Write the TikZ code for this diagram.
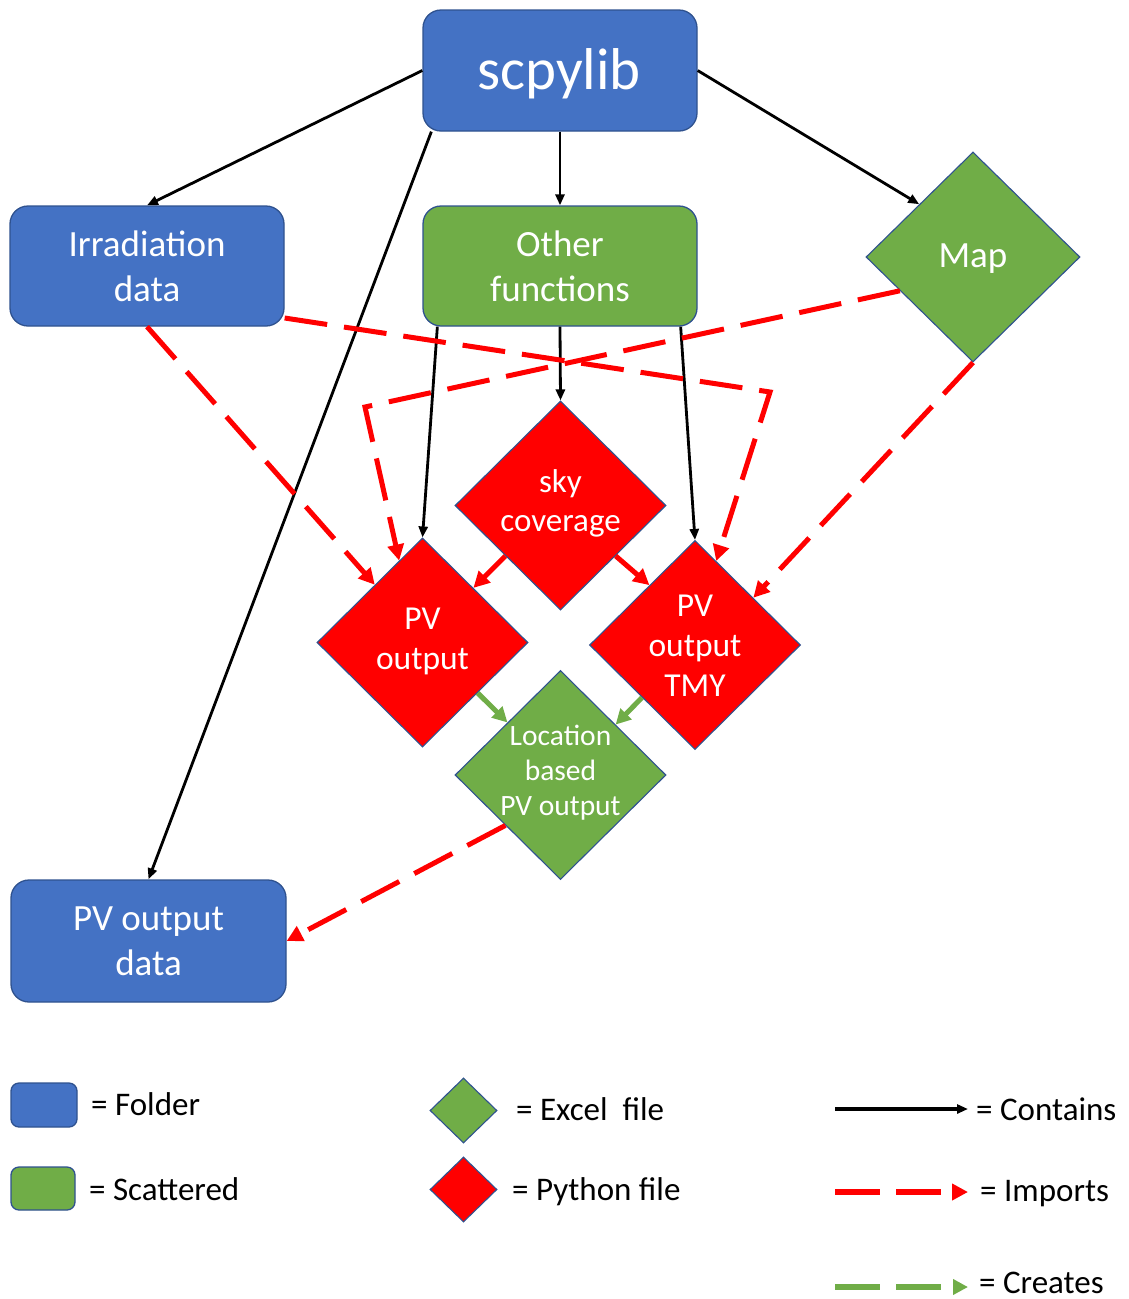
\documentclass[tikz,border=0pt]{standalone}
\usepackage{fontspec}
\setmainfont{Carlito}
\usetikzlibrary{arrows.meta,shapes.geometric,calc}
\definecolor{folderblue}{HTML}{4472C4}
\definecolor{scatgreen}{HTML}{70AD47}
\definecolor{pyred}{HTML}{FF0000}
\definecolor{edgeblue}{HTML}{2F528F}

\begin{document}
\begin{tikzpicture}[x=1pt,y=-1pt,
  box/.style={draw=edgeblue, line width=1.3pt, rounded corners=18pt,
    minimum width=274pt, minimum height=120pt, text=white, align=center,
    font=\fontsize{37}{45}\selectfont, inner sep=0pt},
  folder/.style={box, fill=folderblue},
  scattered/.style={box, fill=scatgreen},
  dia/.style={diamond, draw=edgeblue, line width=1.1pt,
    minimum width=211pt, minimum height=209pt, inner sep=0pt},
  excel/.style={dia, fill=scatgreen},
  python/.style={dia, fill=pyred},
  dtext/.style={text=white, align=center, inner sep=0pt},
  contains/.style={draw=black, line width=2.8pt,
    -{Triangle[length=11pt,width=9pt]}},
  imports/.style={draw=pyred, line width=5pt, dash pattern=on 43pt off 17pt,
    -{Triangle[length=16pt,width=16pt]}},
  creates/.style={draw=scatgreen, line width=5pt, dash pattern=on 43pt off 17pt,
    -{Triangle[length=15pt,width=15pt]}},
  legtext/.style={anchor=base west, inner sep=0pt, font=\fontsize{33}{38}\selectfont}
]
\path[use as bounding box, fill=white] (0,0) rectangle (1129,1299);

% folders and scattered functions
\node[folder, minimum height=121pt, font=\fontsize{59}{64}\selectfont] (scp) at (560,70.5) {};
\node[text=white, inner sep=0pt, font=\fontsize{59}{64}\selectfont] (scptxt) at ($(scp.center)+(-1,3)$) {scpylib};
\node[folder] (irr) at (147,266) {Irradiation\\data};
\node[scattered] (oth) at (560,266) {Other\\functions};
\node[folder, minimum width=275pt, minimum height=122pt] (pvd) at (148.5,941) {PV output\\data};

% files
\node[excel, minimum width=214pt, minimum height=210pt] (map) at (973,257) {};
\node[python] (sky) at (560.5,505.5) {};
\node[python] (pv1) at (422.5,642.5) {};
\node[python] (tmy) at (695,645) {};
\node[excel] (loc) at (560.5,775) {};

\node[dtext, font=\fontsize{37}{44}\selectfont] (maptxt) at ($(map.center)+(0,2)$) {Map};
\node[dtext, font=\fontsize{33}{39}\selectfont] (skytxt) at ($(sky.center)+(0,-2)$) {sky\\coverage};
\node[dtext, font=\fontsize{33.5}{40}\selectfont] (pv1txt) at ($(pv1.center)+(0,-1)$) {PV\\output};
\node[dtext, font=\fontsize{33.5}{40}\selectfont] (tmytxt) at ($(tmy.center)+(0,1)$) {PV\\output\\TMY};
\node[dtext, font=\fontsize{29.5}{35}\selectfont] (loctxt) at ($(loc.center)+(0,-2)$) {Location\\based\\PV output};

% bends of the import lines
\coordinate (irrbend) at (770,392);
\coordinate (mapbend) at (365,407);

% contains
\draw[contains] (scp.west) -- (irr.north);
\draw[contains] (scp.east) -- ($(map.north)!0.5!(map.west)$);
\draw[contains] (scp.south) -- (oth.north);
\draw[contains] ($(scp.south west)+(9,0)$) -- (pvd.north);
\draw[contains] ($(oth.south west)+(15,0)$) -- (pv1.north);
\draw[contains] (oth.south) -- (sky.north);
\draw[contains] ($(oth.south east)+(-17,0)$) -- (tmy.north);

% imports
\draw[imports] (irr.south) -- ($(pv1.north)!0.45!(pv1.west)$);
\draw[imports] ($(irr.east)+(0,52)$) -- (irrbend) -- ($(tmy.north)!0.2!(tmy.east)$);
\draw[imports] ($(map.west)!0.32!(map.south)$) -- (mapbend) -- ($(pv1.north)!0.22!(pv1.west)$);
\draw[imports] (map.south) -- ($(tmy.north)!0.55!(tmy.east)$);
\draw[imports] ($(sky.west)!0.48!(sky.south)$) -- ($(pv1.north)!0.48!(pv1.east)$);
\draw[imports] ($(sky.east)!0.48!(sky.south)$) -- ($(tmy.north)!0.43!(tmy.west)$);
\draw[imports] ($(loc.west)!0.48!(loc.south)$) -- (pvd.east);

% creates
\draw[creates] ($(pv1.east)!0.48!(pv1.south)$) -- ($(loc.north)!0.5!(loc.west)$);
\draw[creates] ($(tmy.west)!0.5!(tmy.south)$) -- ($(loc.north)!0.52!(loc.east)$);

% legend
\node[folder, minimum width=66pt, minimum height=44pt, rounded corners=8pt] (lgfold) at (44,1105) {};
\node[scattered, minimum width=64pt, minimum height=43pt, rounded corners=8pt] (lgscat) at (43,1188.5) {};
\node[excel, minimum width=67pt, minimum height=65pt] (lgexcel) at (463.5,1110.5) {};
\node[python, minimum width=67pt, minimum height=65pt] (lgpy) at (463.5,1189.5) {};

\coordinate (lc1) at (835,1109); \coordinate (lc2) at (968,1109);
\coordinate (li1) at (835,1192); \coordinate (li2) at (968,1192);
\coordinate (lk1) at (835,1287); \coordinate (lk2) at (968,1287);
\draw[contains, line width=3.4pt] (lc1) -- (lc2);
\draw[imports, line width=6pt, dash pattern=on 45pt off 16pt] (li1) -- (li2);
\draw[creates, line width=6pt, dash pattern=on 45pt off 16pt] (lk1) -- (lk2);

\node[legtext] (lt1) at (91,1115) {= Folder};
\node[legtext] (lt2) at (89,1200) {= Scattered};
\node[legtext] (lt3) at (516,1120) {= Excel\ \ file};
\node[legtext] (lt4) at (512,1200) {= Python file};
\node[legtext] (lt5) at (976,1120) {= Contains};
\node[legtext] (lt6) at (980,1201) {= Imports};
\node[legtext] (lt7) at (979,1293) {= Creates};
\end{tikzpicture}
\end{document}
